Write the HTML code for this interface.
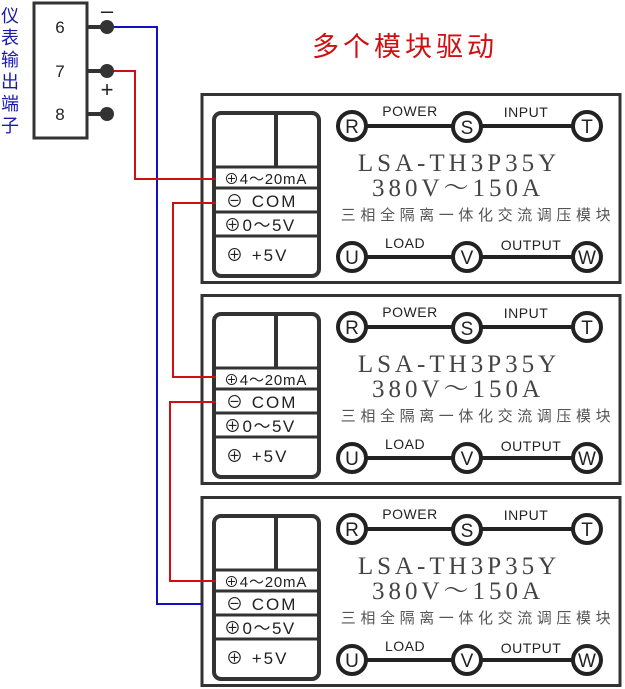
<!DOCTYPE html>
<html><head><meta charset="utf-8"><style>
html,body{margin:0;padding:0;background:#fff;}
svg{display:block;}
text{font-family:"Liberation Sans","Noto Sans CJK SC",sans-serif;}
.serif{font-family:"Liberation Serif","Noto Serif CJK SC",serif;}
</style></head><body>
<svg width="625" height="689" viewBox="0 0 625 689" xmlns="http://www.w3.org/2000/svg">
<defs>
<g id="mod">
  <rect x="202" y="1.5" width="418" height="188" fill="#fff" stroke="#333" stroke-width="3"/>
  <rect x="214" y="20" width="105" height="163" rx="7" fill="#fff" stroke="#333" stroke-width="4"/>
  <line x1="276" y1="20" x2="276" y2="74" stroke="#333" stroke-width="4"/>
  <g stroke="#333" stroke-width="3">
    <line x1="214" y1="74" x2="319" y2="74"/>
    <line x1="214" y1="95" x2="319" y2="95"/>
    <line x1="214" y1="119" x2="319" y2="119"/>
    <line x1="214" y1="143" x2="319" y2="143"/>
  </g>
  <g font-size="17" fill="#222">
    <text x="224" y="91" font-size="15" letter-spacing="0.8">⊕4～20mA</text>
    <text x="226" y="114" letter-spacing="2">⊖ COM</text>
    <text x="224" y="138" letter-spacing="1.5">⊕0～5V</text>
    <text x="226" y="168" letter-spacing="2">⊕  +5V</text>
  </g>
  <g stroke="#222" stroke-width="4">
    <line x1="352" y1="33" x2="587" y2="33"/>
    <line x1="352" y1="164" x2="587" y2="164"/>
  </g>
  <g fill="#fff" stroke="#222" stroke-width="4">
    <circle cx="352" cy="33" r="14"/><circle cx="467" cy="34" r="14"/><circle cx="587" cy="33" r="14"/>
    <circle cx="352" cy="164" r="14"/><circle cx="467" cy="164" r="14"/><circle cx="587" cy="164" r="14"/>
  </g>
  <g font-size="19" fill="#222" text-anchor="middle">
    <text x="352" y="40">R</text><text x="467" y="41">S</text><text x="587" y="40">T</text>
    <text x="352" y="171">U</text><text x="467" y="171">V</text><text x="587" y="171">W</text>
  </g>
  <g font-size="14" fill="#222" text-anchor="middle" letter-spacing="0.5">
    <text x="410" y="23">POWER</text><text x="526" y="24">INPUT</text>
    <text x="405" y="155">LOAD</text><text x="531" y="157">OUTPUT</text>
  </g>
  <text class="serif" x="459" y="78" font-size="25" fill="#444" text-anchor="middle" letter-spacing="4">LSA-TH3P35Y</text>
  <text class="serif" x="458" y="103" font-size="25" fill="#444" text-anchor="middle" letter-spacing="4">380V～150A</text>
  <text x="478" y="127" font-size="15" fill="#555" text-anchor="middle" letter-spacing="4.6">三相全隔离一体化交流调压模块</text>
</g>
</defs>
<use href="#mod" y="93"/>
<use href="#mod" y="294"/>
<use href="#mod" y="496"/>
<!-- terminal -->
<rect x="34" y="3" width="53" height="135" fill="#fff" stroke="#333" stroke-width="3"/>
<g font-size="17" fill="#222" text-anchor="middle">
<text x="60" y="33">6</text><text x="60" y="77">7</text><text x="60" y="120">8</text>
</g>
<g stroke="#333" stroke-width="4"><line x1="87" y1="27" x2="107" y2="27"/><line x1="87" y1="71" x2="107" y2="71"/><line x1="87" y1="114" x2="107" y2="114"/></g>
<!-- wires -->
<polyline points="107,27 157,27 157,604 203,604" fill="none" stroke="#1010c0" stroke-width="2"/>
<polyline points="107,71 135,71 135,179 216,179" fill="none" stroke="#d01010" stroke-width="2"/>
<polyline points="216,203 173,203 173,377 216,377" fill="none" stroke="#d01010" stroke-width="2"/>
<polyline points="216,402 170,402 170,581 216,581" fill="none" stroke="#d01010" stroke-width="2"/>
<g fill="#333"><circle cx="107" cy="27" r="7"/><circle cx="107" cy="71" r="7"/><circle cx="107" cy="114" r="7"/></g>
<text x="107" y="18" font-size="22" fill="#222" text-anchor="middle">–</text>
<text x="107" y="97" font-size="22" fill="#222" text-anchor="middle">+</text>
<g font-size="18" fill="#1a1ab0" text-anchor="middle">
<text x="10" y="22">仪</text><text x="10" y="44">表</text><text x="10" y="66">输</text><text x="10" y="88">出</text><text x="10" y="110">端</text><text x="10" y="132">子</text>
</g>
<text x="405" y="56" font-size="27" fill="#d01010" text-anchor="middle" letter-spacing="4">多个模块驱动</text>
</svg>
</body></html>
